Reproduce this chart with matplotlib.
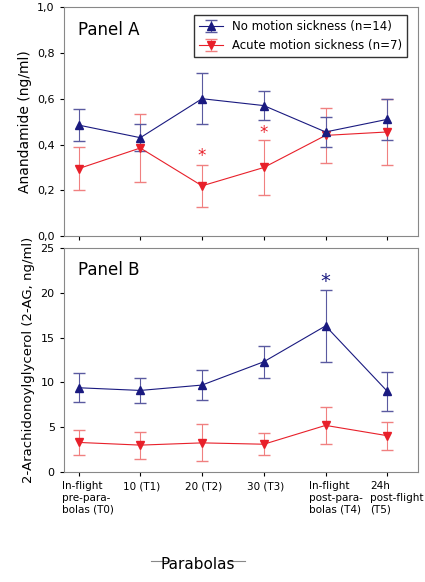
import matplotlib
matplotlib.use("Agg")
import matplotlib.pyplot as plt
import numpy as np
from matplotlib.transforms import ScaledTranslation

labels = ["In-flight\npre-para-\nbolas (T0)", "10 (T1)", "20 (T2)", "30 (T3)",
          "In-flight\npost-para-\nbolas (T4)", "24h\npost-flight\n(T5)"]
a_blue = [0.485, 0.43, 0.60, 0.57, 0.455, 0.51]
a_blue_err = [0.07, 0.06, 0.11, 0.065, 0.065, 0.09]
a_red = [0.295, 0.385, 0.22, 0.30, 0.44, 0.455]
a_red_err = [0.095, 0.15, 0.093, 0.118, 0.12, 0.145]
b_blue = [9.4, 9.1, 9.7, 12.3, 16.3, 9.0]
b_blue_err = [1.6, 1.4, 1.7, 1.8, 4.0, 2.2]
b_red = [3.3, 3.0, 3.25, 3.1, 5.2, 4.05]
b_red_err = [1.4, 1.5, 2.05, 1.2, 2.1, 1.55]

blue = "#1a1a80"; red = "#e8202a"
fig = plt.figure(figsize=(4.25, 5.82), dpi=100)
axA = fig.add_axes([0.15, 0.594, 0.834, 0.394])
axB = fig.add_axes([0.15, 0.189, 0.834, 0.385])
x = np.arange(6)
for ax, bv, be, rv, re in [(axA, a_blue, a_blue_err, a_red, a_red_err),
                           (axB, b_blue, b_blue_err, b_red, b_red_err)]:
    ax.errorbar(x, rv, yerr=re, color=red, marker="v", ms=6, lw=0.8, capsize=4,
                elinewidth=0.8, ecolor="#f08080", label="Acute motion sickness (n=7)")
    ax.errorbar(x, bv, yerr=be, color=blue, marker="^", ms=6, lw=0.8, capsize=4,
                elinewidth=0.8, ecolor="#5a5aa0", label="No motion sickness (n=14)")
    ax.set_xlim(-0.24, 5.5)
    ax.tick_params(labelsize=8, direction="out", length=3)
    for s in ax.spines.values():
        s.set_color("#888888")

axA.set_ylim(0, 1.0)
axA.set_yticks(np.arange(0, 1.01, 0.2))
axA.set_yticklabels(["0,0", "0,2", "0,4", "0,6", "0,8", "1,0"])
axA.set_xticks(x); axA.set_xticklabels([])
axA.set_ylabel("Anandamide (ng/ml)", fontsize=10)
axA.text(0.04, 0.9, "Panel A", transform=axA.transAxes, fontsize=12, va="center")
h, l = axA.get_legend_handles_labels()
axA.legend(h[::-1], l[::-1], loc="upper right", fontsize=8.5, frameon=True,
           fancybox=False, edgecolor="black", bbox_to_anchor=(0.985, 0.99))
axA.text(2, 0.33, "*", color=red, ha="center", fontsize=12)
axA.text(3, 0.43, "*", color=red, ha="center", fontsize=12)

axB.set_ylim(0, 25)
axB.set_yticks(range(0, 26, 5))
axB.set_xticks(x); axB.set_xticklabels(labels, fontsize=7.5, ha="left")
axB.set_ylabel("2-Arachidonoylglycerol (2-AG, ng/ml)", fontsize=9.5)
axB.text(0.04, 0.9, "Panel B", transform=axB.transAxes, fontsize=12, va="center")
axB.text(4, 20.6, "*", color=blue, ha="center", fontsize=14)
for t in axB.get_xticklabels():
    t.set_transform(t.get_transform() + ScaledTranslation(-0.17, 0, fig.dpi_scale_trans))
fig.text(0.466, 0.022, "Parabolas", fontsize=11, ha="center", color="black")
fig.add_artist(plt.Line2D([0.355, 0.395], [0.036, 0.036], color="#888888", lw=0.8))
fig.add_artist(plt.Line2D([0.537, 0.577], [0.036, 0.036], color="#888888", lw=0.8))
fig.savefig("out.png", dpi=100, facecolor="white")
